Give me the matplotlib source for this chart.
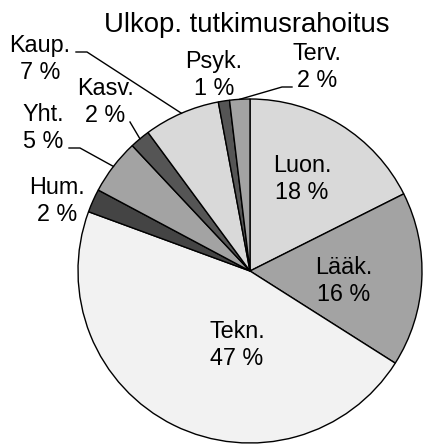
import numpy as np
import matplotlib
matplotlib.use("Agg")
import matplotlib.pyplot as plt

plt.rcParams['font.family'] = ['Liberation Sans', 'DejaVu Sans']

# shares, clockwise from 12 o'clock
labels = ["Luon.", "Lääk.", "Tekn.", "Hum.", "Yht.", "Kasv.", "Kaup.", "Psyk.", "Terv."]
shares = [17.6, 16.4, 46.6, 2.2, 5.2, 1.9, 7.15, 1.05, 1.9]
pct_text = ["18 %", "16 %", "47 %", "2 %", "5 %", "2 %", "7 %", "1 %", "2 %"]
colors = ["#d9d9d9", "#a3a3a3", "#f2f2f2", "#444444", "#a3a3a3",
          "#555555", "#d9d9d9", "#555555", "#a3a3a3"]

# pixel layout: pie centre and radius
CX, CY, R = 250, 271, 172
W, H = 424, 444


def px(x, y):
    return (x - CX) / R, (CY - y) / R


# label anchor (centre x, baseline of the second line) in pixels
label_pos = {
    "Luon.": (302, 199), "Lääk.": (344, 301), "Tekn.": (237, 365),
    "Hum.": (57, 221), "Yht.": (43, 148), "Kasv.": (105, 122),
    "Kaup.": (40, 79), "Psyk.": (214, 95), "Terv.": (317, 87),
}
# leader lines: text-side points in pixels, last point goes to wedge edge
leaders = {
    "Kaup.": [(76, 52), (87, 52)],
    "Kasv.": [(130, 122)],
    "Yht.": [(69, 148), (80, 148)],
    "Terv.": [(292, 87), (282, 87)],
}

fig = plt.figure(figsize=(W / 100, H / 100), dpi=100)
ax = fig.add_axes([0, 0, 1, 1])

wedges, _ = ax.pie(shares, colors=colors, startangle=90, counterclock=False,
                   radius=1, center=(0, 0), frame=True,
                   wedgeprops=dict(edgecolor="black", linewidth=1.0))
ax.set_xlim(-CX / R, (W - CX) / R)
ax.set_ylim((CY - H) / R, CY / R)
ax.set_aspect("auto")
ax.axis("off")

for w, lab, pt in zip(wedges, labels, pct_text):
    x, y = px(*label_pos[lab])
    ax.text(x, y, lab + "\n" + pt, ha="center", va="baseline",
            multialignment="center", fontsize=16.8, linespacing=1.22)
    if lab in leaders:
        mid = np.deg2rad((w.theta1 + w.theta2) / 2)
        pts = [px(*p) for p in leaders[lab]] + [(np.cos(mid), np.sin(mid))]
        xs, ys = zip(*pts)
        ax.plot(xs, ys, color="black", lw=1.0)

tx, ty = px(247, 32)
ax.text(tx, ty, "Ulkop. tutkimusrahoitus", ha="center", va="baseline",
        fontsize=19.8)

fig.savefig("out.png", dpi=100)
